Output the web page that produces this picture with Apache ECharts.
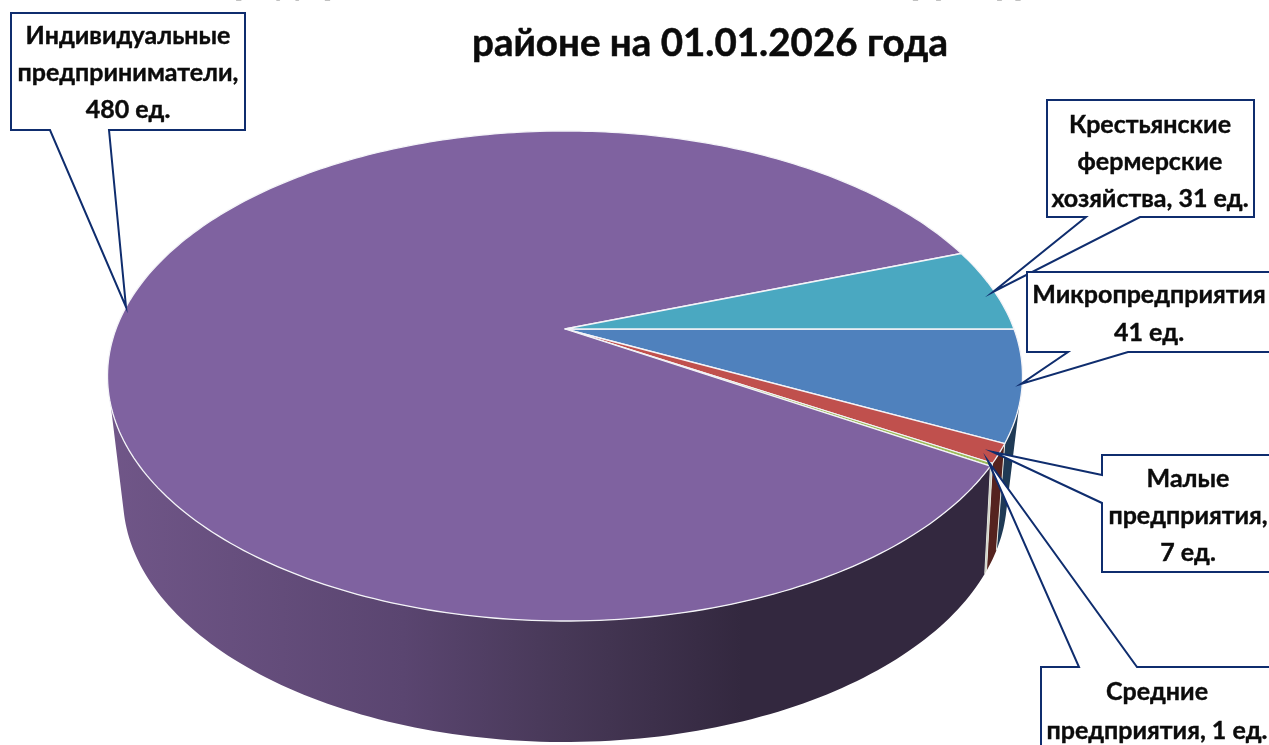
<!DOCTYPE html>
<html>
<head>
<meta charset="utf-8">
<title>Структура предпринимательства</title>
<script src="https://cdn.jsdelivr.net/npm/echarts@6/dist/echarts.min.js"></script>
<style>
  html, body { margin: 0; padding: 0; background: #fff; overflow: hidden; }
  #chart { width: 1269px; height: 745px; }
</style>
</head>
<body>
<div id="chart"></div>
<script>
// clockwise from 3 o'clock, same order as the picture
const categories = ['Микропредприятия', 'Малые предприятия', 'Средние предприятия', 'Индивидуальные предприниматели', 'Крестьянские фермерские хозяйства'];
const values = [41, 7, 1, 480, 31];
const titleLines = ['Предпринимательство в экономике: структура в нашем', 'районе на 01.01.2026 года'];
const topColors = ['#4f81bd', '#c0504d', '#9bbb59', '#7f62a0', '#4aa8c1'];
const wallColors = ['#1f3a55', '#55231f', '#c9cdbb', null, '#2b6a7c'];

const total = values.reduce((a, b) => a + b, 0);
const FONT = 'Lato, "Noto Sans", sans-serif';
const NAVY = '#0f2d6e';
const INK = '#0b0b0b';
// where the side of the disc meets its outline, right and left
const WALL_FROM = 17.6, WALL_TO = 162.4;

// the disc is drawn in perspective so the centre of the pie sits above the centre of the ellipse
function onTop(deg) {
  const a = deg * Math.PI / 180, u = Math.cos(a), v = Math.sin(a), w = 1 - 0.1918 * v;
  return [565 + 449 * u / w, 329 + 236 * v / w];
}
function onBottom(deg) {
  const a = deg * Math.PI / 180, u = Math.cos(a), v = Math.sin(a), w = 1 - 0.25 * v;
  return [565 + 428 * u / w, 435.75 + 229.7 * v / w];
}
function sliceStart(i) {
  let s = 0;
  for (let k = 0; k < i; k++) s += values[k];
  return s / total * 360;
}

// side of the big purple slice gets darker to the right
const purpleWall = new echarts.graphic.LinearGradient(110, 0, 1000, 0, [
  { offset: 0, color: '#705688' },
  { offset: 0.33, color: '#5a4570' },
  { offset: 0.51, color: '#473857' },
  { offset: 0.71, color: '#33283f' },
  { offset: 1, color: '#33283f' }
], true);

function renderWall(params, api) {
  const i = api.value(0);
  const from = Math.max(sliceStart(i), WALL_FROM);
  const to = Math.min(sliceStart(i) + api.value(1) / total * 360, WALL_TO);
  if (to <= from) return { type: 'group', children: [] };
  const up = [], down = [];
  const n = Math.max(2, Math.ceil(to - from));
  for (let k = 0; k <= n; k++) {
    const d = from + (to - from) * k / n;
    up.push(onTop(d));
    down.unshift(onBottom(d));
  }
  const children = [{
    type: 'polygon',
    shape: { points: up.concat(down) },
    style: { fill: wallColors[i] || purpleWall }
  }];
  if (from > WALL_FROM) {
    children.push({
      type: 'line',
      shape: { x1: onTop(from)[0], y1: onTop(from)[1], x2: onBottom(from)[0], y2: onBottom(from)[1] },
      style: { stroke: '#e4e6df', lineWidth: 1 }
    });
  }
  return { type: 'group', children: children };
}

function renderTop(params, api) {
  const i = api.value(0);
  const from = sliceStart(i), to = from + api.value(1) / total * 360;
  const pts = [[565, 329]];
  const n = Math.max(2, Math.ceil(to - from));
  for (let k = 0; k <= n; k++) pts.push(onTop(from + (to - from) * k / n));
  return {
    type: 'polygon',
    shape: { points: pts },
    style: { fill: topColors[i], stroke: '#f4f4f8', lineWidth: 1.3, lineJoin: 'round' }
  };
}

// callout: outline with its wedge, then the text
function callout(points, lines, cx, firstY, gap) {
  const els = [{
    type: 'polygon',
    shape: { points: points },
    style: { fill: '#fff', stroke: NAVY, lineWidth: 2 },
    z: 10
  }];
  lines.forEach((t, k) => {
    els.push({
      type: 'text',
      x: cx, y: firstY + k * gap,
      style: { text: t, font: 'bold 25px ' + FONT, fill: INK, stroke: INK, lineWidth: 0.4, textAlign: 'center', textVerticalAlign: 'middle' },
      z: 11
    });
  });
  return els;
}

const graphics = [].concat(
  callout([[11, 13], [245, 13], [245, 130], [109, 130], [126, 307], [50, 130], [11, 130]],
    ['Индивидуальные', 'предприниматели,', values[3] + ' ед.'], 128, 36, 37),
  callout([[1047, 100], [1254, 100], [1254, 217], [1140, 217], [993, 292], [1086, 217], [1047, 217]],
    ['Крестьянские', 'фермерские', 'хозяйства, ' + values[4] + ' ед.'], 1150, 125, 37),
  callout([[1027, 272], [1275, 272], [1275, 352], [1128, 352], [1021, 384], [1068, 352], [1027, 352]],
    ['Микропредприятия', values[0] + ' ед.'], 1149, 295, 38),
  callout([[1102, 455], [1275, 455], [1275, 572], [1102, 572], [1102, 503], [993, 452], [1102, 475]],
    ['Малые', 'предприятия,', values[1] + ' ед.'], 1188, 479, 37),
  callout([[1041, 667], [1079, 667], [988, 461], [1137, 667], [1275, 667], [1275, 760], [1041, 760]],
    ['Средние', 'предприятия, ' + values[2] + ' ед.'], 1157, 692, 39)
);

const seriesData = values.map((v, i) => ({ name: categories[i], value: [i, v] }));

const myChart = echarts.init(document.getElementById('chart'));
const option = {
  animation: false,
  backgroundColor: '#fff',
  title: {
    text: titleLines.join('\n'),
    left: 705,
    textAlign: 'center',
    top: -54,
    textStyle: { fontFamily: FONT, fontWeight: 'bold', fontSize: 38.5, lineHeight: 62, color: INK, textBorderColor: INK, textBorderWidth: 0.5 }
  },
  series: [
    { type: 'custom', coordinateSystem: 'none', renderItem: renderWall, data: seriesData, z: 2, silent: true },
    { type: 'custom', coordinateSystem: 'none', renderItem: renderTop, data: seriesData, z: 3, silent: true }
  ],
  graphic: graphics
};
myChart.setOption(option);
</script>
</body>
</html>
